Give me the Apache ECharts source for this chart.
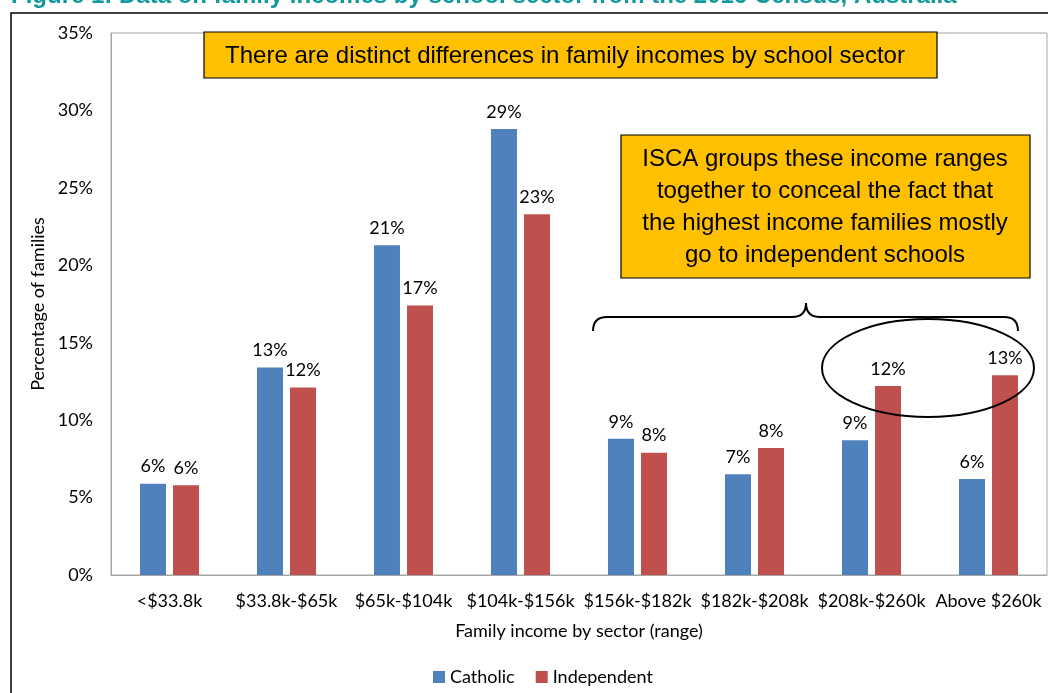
<!DOCTYPE html>
<html>
<head>
<meta charset="utf-8">
<script src="https://cdn.jsdelivr.net/npm/echarts@6/dist/echarts.min.js"></script>
<style>
html,body{margin:0;padding:0;background:#fff;}
#chart{width:1048px;height:693px;}
</style>
</head>
<body>
<div id="chart"></div>
<script>
var categories = ['<$33.8k', '$33.8k-$65k', '$65k-$104k', '$104k-$156k', '$156k-$182k', '$182k-$208k', '$208k-$260k', 'Above $260k'];
var catholic = [5.9, 13.4, 21.3, 28.8, 8.8, 6.5, 8.7, 6.2];
var independent = [5.8, 12.1, 17.4, 23.3, 7.9, 8.2, 12.2, 12.9];
var yTicks = {min: 0, max: 35, interval: 5};

var FONT = 'Lato, "Open Sans", sans-serif';
var ARIAL = '"Liberation Sans", Arial, sans-serif';
var FS = 18;
var chart = echarts.init(document.getElementById('chart'));
var labelOpt = {
  show: true, position: 'top', distance: 8,
  color: '#000', fontSize: FS, fontFamily: FONT,
  formatter: function (p) { return Math.round(p.value) + '%'; }
};
var braceStyle = {fill: 'none', stroke: '#000', lineWidth: 2};
chart.setOption({
  animation: false,
  textStyle: {fontFamily: FONT},
  grid: {left: 111, right: 1, top: 33, bottom: 118, show: true, borderColor: '#a6a6a6', borderWidth: 1},
  legend: {
    left: 428, top: 663, itemWidth: 12, itemHeight: 12, itemGap: 21,
    icon: 'rect',
    textStyle: {fontSize: FS, color: '#000', fontFamily: FONT},
    data: ['Catholic', 'Independent']
  },
  xAxis: {
    type: 'category', data: categories,
    name: 'Family income by sector (range)', nameLocation: 'middle', nameGap: 47,
    nameTextStyle: {fontSize: FS, color: '#000', fontFamily: FONT},
    axisLine: {lineStyle: {color: '#a6a6a6'}},
    axisTick: {show: false},
    axisLabel: {color: '#000', fontSize: FS, margin: 17, interval: 0, fontFamily: FONT}
  },
  yAxis: {
    type: 'value', min: yTicks.min, max: yTicks.max, interval: yTicks.interval,
    name: 'Percentage of families', nameLocation: 'middle', nameGap: 56, nameRotate: 90,
    nameTextStyle: {fontSize: FS, color: '#000', fontFamily: FONT},
    axisLine: {show: true, lineStyle: {color: '#a6a6a6'}},
    axisTick: {show: false},
    splitLine: {show: false},
    axisLabel: {color: '#000', fontSize: FS, margin: 18, formatter: '{value}%', fontFamily: FONT}
  },
  series: [
    {name: 'Catholic', type: 'bar', data: catholic, barWidth: 26, barGap: '27%',
     itemStyle: {color: '#4f81bd'}, label: labelOpt},
    {name: 'Independent', type: 'bar', data: independent, barWidth: 26,
     itemStyle: {color: '#c0504d'}, label: labelOpt}
  ],
  graphic: [
    {type: 'rect', silent: true, shape: {x: 11, y: 13, width: 1100, height: 760}, style: {fill: 'none', stroke: '#000', lineWidth: 1.5}},
    {type: 'text', x: 11, y: 8, style: {text: 'Figure 1: Data on family incomes by school sector from the 2016 Census, Australia', fill: '#12999b', font: 'bold 24px ' + ARIAL, textAlign: 'left', textVerticalAlign: 'bottom'}},
    {type: 'rect', z: 100, shape: {x: 204, y: 32, width: 733, height: 46}, style: {fill: '#ffc000', stroke: '#000', lineWidth: 1.2}},
    {type: 'text', x: 565, y: 56, z: 101, style: {text: 'There are distinct differences in family incomes by school sector', fill: '#000', font: '24px ' + ARIAL, textAlign: 'center', textVerticalAlign: 'middle'}},
    {type: 'rect', z: 100, shape: {x: 621, y: 135, width: 409, height: 143}, style: {fill: '#ffc000', stroke: '#000', lineWidth: 1.2}},
    {type: 'text', x: 825, y: 207, z: 101, style: {text: 'ISCA groups these income ranges\ntogether to conceal the fact that\nthe highest income families mostly\ngo to independent schools', fill: '#000', font: '24px ' + ARIAL, textAlign: 'center', textVerticalAlign: 'middle', lineHeight: 32}},
    {type: 'bezierCurve', z: 100, shape: {x1: 593, y1: 331, cpx1: 593, cpy1: 317, x2: 607, y2: 317}, style: braceStyle},
    {type: 'line', z: 100, shape: {x1: 607, y1: 317, x2: 792, y2: 317}, style: braceStyle},
    {type: 'bezierCurve', z: 100, shape: {x1: 792, y1: 317, cpx1: 806, cpy1: 317, x2: 806, y2: 303}, style: braceStyle},
    {type: 'bezierCurve', z: 100, shape: {x1: 806, y1: 303, cpx1: 806, cpy1: 317, x2: 820, y2: 317}, style: braceStyle},
    {type: 'line', z: 100, shape: {x1: 820, y1: 317, x2: 1004, y2: 317}, style: braceStyle},
    {type: 'bezierCurve', z: 100, shape: {x1: 1004, y1: 317, cpx1: 1018, cpy1: 317, x2: 1018, y2: 331}, style: braceStyle},
    {type: 'ellipse', z: 100, shape: {cx: 928, cy: 368, rx: 106, ry: 49}, style: {fill: 'none', stroke: '#000', lineWidth: 2}}
  ]
});
</script>
</body>
</html>
